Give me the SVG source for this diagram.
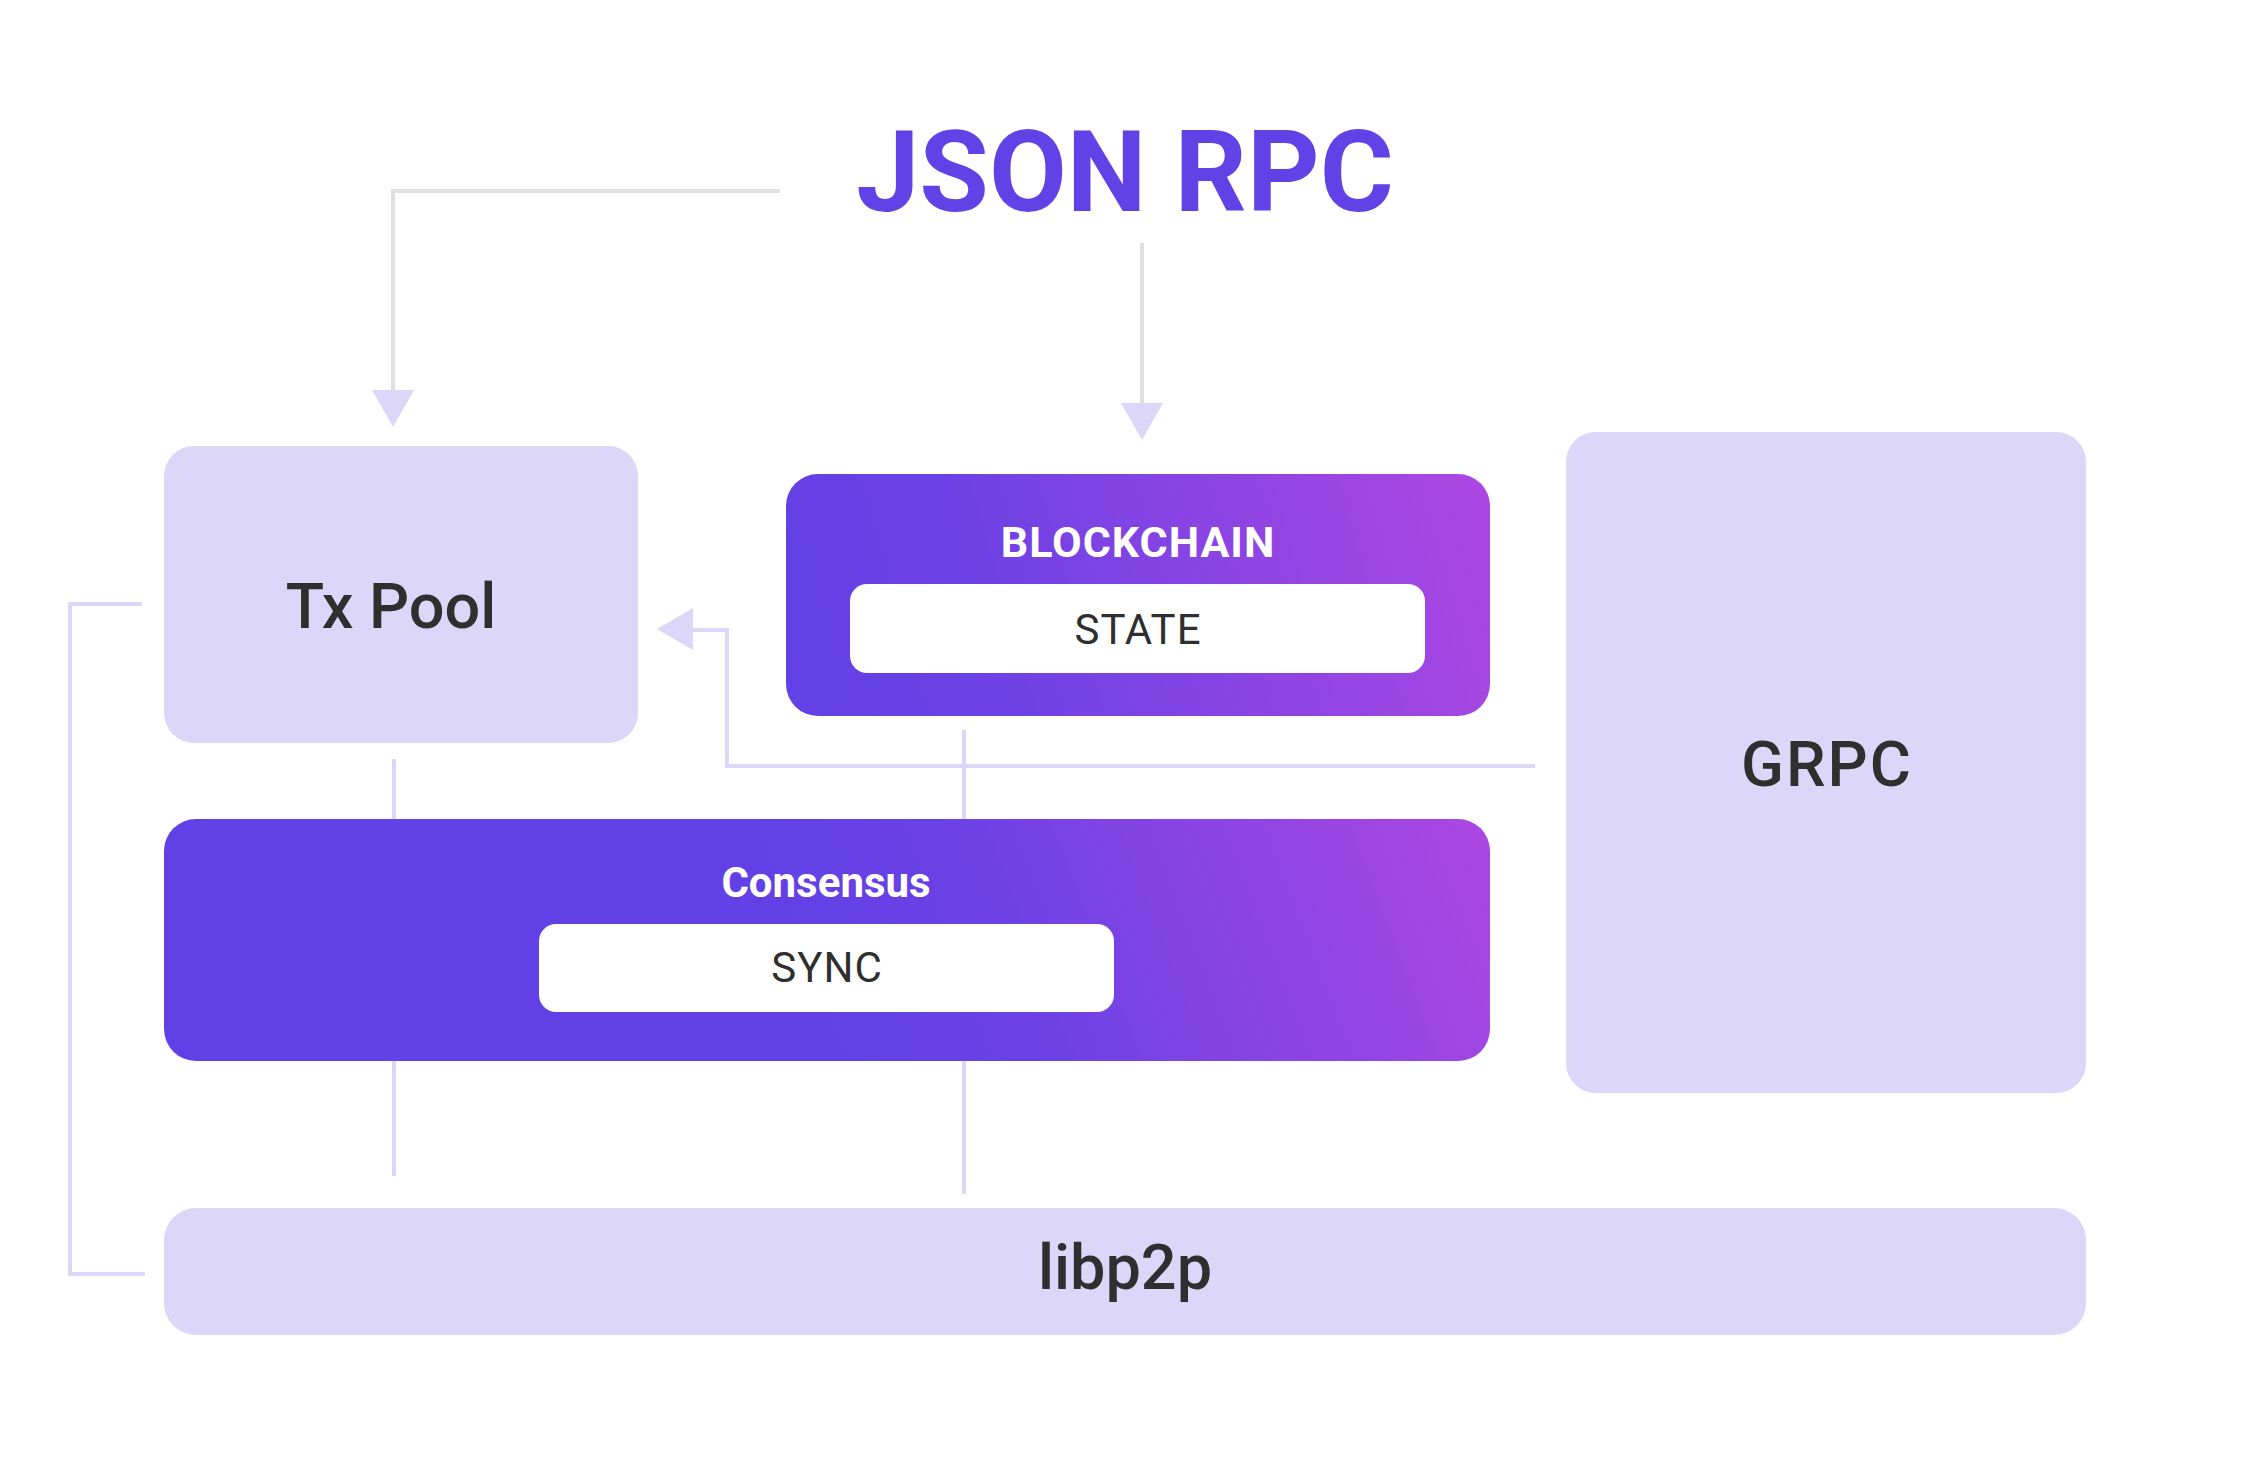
<svg xmlns="http://www.w3.org/2000/svg" width="2250" height="1471" viewBox="0 0 2250 1471">
<defs>
<linearGradient id="grad" gradientUnits="userSpaceOnUse" x1="790" y1="760" x2="1490" y2="560">
<stop offset="0" stop-color="#6141E6"/>
<stop offset="0.3" stop-color="#6C41E5"/>
<stop offset="1" stop-color="#AA47E2"/>
</linearGradient>
<linearGradient id="grad2" gradientUnits="userSpaceOnUse" x1="860" y1="1100" x2="1490" y2="860">
<stop offset="0" stop-color="#6141E6"/>
<stop offset="0.25" stop-color="#6A41E5"/>
<stop offset="1" stop-color="#AA47E2"/>
</linearGradient>
<style>
.light{fill:#DCD6F8;}
.dark{fill:url(#grad);}
.dark2{fill:url(#grad2);}
.white{fill:#FFFFFF;}
.lbl{font-family:Roboto,"Liberation Sans",sans-serif;fill:#2F2F2F;text-anchor:middle;}
.big{font-size:63px;font-weight:500;}
.sub{font-size:42px;font-weight:400;letter-spacing:1px;}
.hdr{font-family:Roboto,"Liberation Sans",sans-serif;fill:#FFFFFF;font-weight:700;text-anchor:middle;}
.gray{fill:none;stroke:#E0E0E0;stroke-width:4;}
.lav{fill:none;stroke:#DCD6F8;stroke-width:4;}
.head{fill:#DCD6F8;}
</style>
</defs>
<rect width="2250" height="1471" fill="#FFFFFF"/>

<g id="connectors">
<path class="gray" d="M780,191 H393 V392"/>
<polygon class="head" points="372,390 414,390 393,427"/>
<path class="gray" d="M1142,243 V405"/>
<polygon class="head" points="1121,403 1163,403 1142,440"/>
<path class="lav" d="M142,604 H70 V1274 H145"/>
<path class="lav" d="M1535,766 H727 V630 H690"/>
<polygon class="head" points="657,629 693,608 693,650"/>
<path class="lav" d="M394,759 V819 M394,1061 V1176"/>
<path class="lav" d="M964,730 V819 M964,1061 V1194"/>
</g>

<g id="json-rpc">
<text x="1125" y="211" font-family="Roboto,'Liberation Sans',sans-serif" font-size="113" font-weight="700" fill="#6142E6" text-anchor="middle">JSON RPC</text>
</g>

<g id="txpool">
<rect class="light" x="164" y="446" width="474" height="297" rx="30"/>
<text class="lbl big" x="391" y="628">Tx Pool</text>
</g>

<g id="blockchain">
<rect class="dark" x="786" y="474" width="704" height="242" rx="32"/>
<text class="hdr" x="1138" y="557" font-size="43" letter-spacing="1">BLOCKCHAIN</text>
<g id="state">
<rect class="white" x="850" y="584" width="575" height="89" rx="17"/>
<text class="lbl sub" x="1138" y="644">STATE</text>
</g>
</g>

<g id="grpc">
<rect class="light" x="1566" y="432" width="520" height="661" rx="30"/>
<text class="lbl big" x="1827" y="786" letter-spacing="2">GRPC</text>
</g>

<g id="consensus">
<rect class="dark2" x="164" y="819" width="1326" height="242" rx="32"/>
<text class="hdr" x="826" y="897" font-size="42">Consensus</text>
<g id="sync">
<rect class="white" x="539" y="924" width="575" height="88" rx="17"/>
<text class="lbl sub" x="827" y="982">SYNC</text>
</g>
</g>

<g id="libp2p">
<rect class="light" x="164" y="1208" width="1922" height="127" rx="32"/>
<text class="lbl big" x="1125" y="1289">libp2p</text>
</g>
</svg>
